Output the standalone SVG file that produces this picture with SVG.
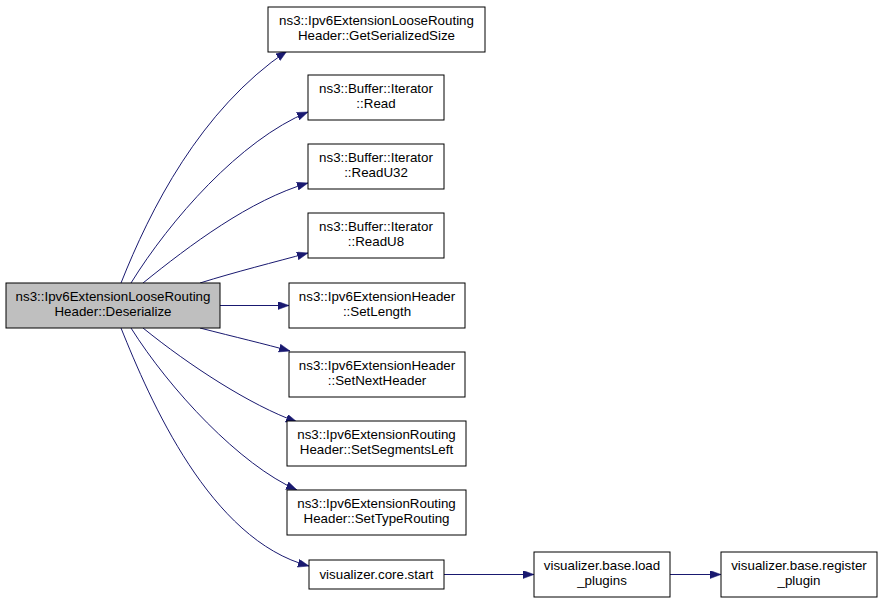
<svg xmlns="http://www.w3.org/2000/svg" width="883" height="603" viewBox="0 0 883 603">
<style>
.n rect{fill:#ffffff;stroke:#000000;stroke-width:1}
.n.cur rect{fill:#bfbfbf}
text{font-family:"Liberation Sans",Arial,Helvetica,sans-serif;font-size:13.33px;text-anchor:middle;fill:#000000}
.e{fill:none;stroke:#191970;stroke-width:1;marker-end:url(#ah)}
</style>
<defs>
<marker id="ah" markerUnits="userSpaceOnUse" markerWidth="12" markerHeight="9" refX="11" refY="4" orient="auto">
<path d="M0,0 L11,4 L0,8 z" fill="#191970" stroke="#191970" stroke-width="0.5"/>
</marker>
</defs>
<rect width="883" height="603" fill="#ffffff"/>
<g id="edges">
<path class="e" d="M121,283 C150,210 200,110 287,51"/>
<path class="e" d="M131,283 C170,220 240,140 308,112"/>
<path class="e" d="M143,283 C190,245 250,200 308,183"/>
<path class="e" d="M200,283 C235,272 275,262 308,253"/>
<path class="e" d="M220,305.5 L289,305.5"/>
<path class="e" d="M200,328 C235,337 265,344 290,351"/>
<path class="e" d="M143,328 C190,366 250,405 297,422"/>
<path class="e" d="M131,328 C170,390 240,465 297,490"/>
<path class="e" d="M121,328 C150,400 210,540 309,566"/>
<path class="e" d="M444,574.5 L534,574.5"/>
<path class="e" d="M670,574.5 L721,574.5"/>
</g>
<g id="node_deserialize" class="n cur"><rect x="6" y="283" width="214" height="45"/><text x="113" y="301">ns3::Ipv6ExtensionLooseRouting</text><text x="113" y="316">Header::Deserialize</text></g>
<g id="node_getserializedsize" class="n"><rect x="268" y="7" width="217" height="45"/><text x="376.5" y="25">ns3::Ipv6ExtensionLooseRouting</text><text x="376.5" y="40">Header::GetSerializedSize</text></g>
<g id="node_read" class="n"><rect x="308" y="75" width="136" height="45"/><text x="376" y="93">ns3::Buffer::Iterator</text><text x="376" y="108">::Read</text></g>
<g id="node_readu32" class="n"><rect x="308" y="144" width="136" height="45"/><text x="376" y="162">ns3::Buffer::Iterator</text><text x="376" y="177">::ReadU32</text></g>
<g id="node_readu8" class="n"><rect x="308" y="213" width="136" height="45"/><text x="376" y="231">ns3::Buffer::Iterator</text><text x="376" y="246">::ReadU8</text></g>
<g id="node_setlength" class="n"><rect x="289" y="283" width="176" height="45"/><text x="377" y="301">ns3::Ipv6ExtensionHeader</text><text x="377" y="316">::SetLength</text></g>
<g id="node_setnextheader" class="n"><rect x="289" y="352" width="176" height="45"/><text x="377" y="370">ns3::Ipv6ExtensionHeader</text><text x="377" y="385">::SetNextHeader</text></g>
<g id="node_setsegmentsleft" class="n"><rect x="287" y="421" width="179" height="45"/><text x="376.5" y="439">ns3::Ipv6ExtensionRouting</text><text x="376.5" y="454">Header::SetSegmentsLeft</text></g>
<g id="node_settyperouting" class="n"><rect x="287" y="490" width="179" height="45"/><text x="376.5" y="508">ns3::Ipv6ExtensionRouting</text><text x="376.5" y="523">Header::SetTypeRouting</text></g>
<g id="node_core_start" class="n"><rect x="309" y="560" width="135" height="29"/><text x="376.5" y="579">visualizer.core.start</text></g>
<g id="node_load_plugins" class="n"><rect x="534" y="552" width="136" height="45"/><text x="602" y="570">visualizer.base.load</text><text x="602" y="585">_plugins</text></g>
<g id="node_register_plugin" class="n"><rect x="721" y="552" width="156" height="45"/><text x="799" y="570">visualizer.base.register</text><text x="799" y="585">_plugin</text></g>
</svg>
